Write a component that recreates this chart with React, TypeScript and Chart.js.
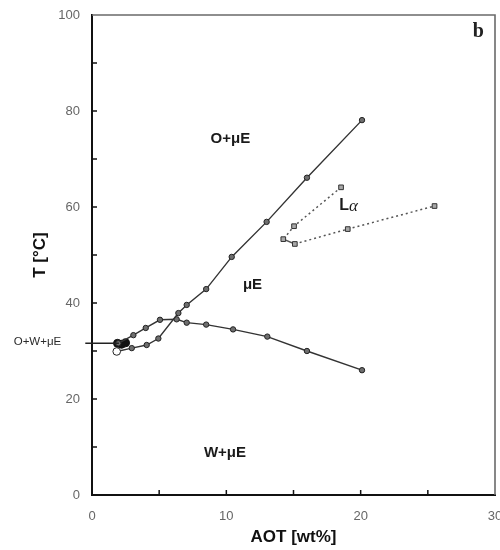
import React, { useEffect, useRef } from "react";
import { Chart, registerables } from "chart.js";

Chart.register(...registerables);

// Phase boundary between O+µE and µE (lower branch continues into the rising line)
const upperX = [1.84, 2.96, 4.07, 4.94, 6.43, 7.05, 8.5, 10.4, 13.0, 16.0, 20.1];
const upperT = [29.9, 30.6, 31.25, 32.6, 37.9, 39.6, 42.9, 49.6, 56.9, 66.1, 78.1];

// Phase boundary between µE and W+µE
const lowerX = [1.96, 3.08, 4.0, 5.06, 6.3, 7.05, 8.5, 10.5, 13.05, 16.0, 20.1];
const lowerT = [31.6, 33.3, 34.8, 36.5, 36.6, 35.9, 35.5, 34.5, 33.0, 30.0, 26.0];

// Lamellar (Lα) region boundary
const lamellarX = [18.54, 15.04, 14.24, 15.1, 19.04, 25.5];
const lamellarT = [64.1, 56.0, 53.3, 52.3, 55.4, 60.2];

// Three-phase O+W+µE temperature
const threePhaseX = [-0.5, 2.0];
const threePhaseT = [31.6, 31.6];

// Overlapping measurements at the three-phase point
const clusterX = [1.9, 2.2, 2.5];
const clusterT = [31.6, 31.4, 31.7];

const xTicks = [0, 10, 20, 30];
const yTicks = [0, 20, 40, 60, 80, 100];
const xMinorTicks = [5, 10, 15, 20, 25];
const yMinorTicks = [10, 20, 30, 40, 50, 60, 70, 80, 90];

const regionNames = ["O+\u03BCE", "\u03BCE", "W+\u03BCE"];
const regionX = [10.3, 11.95, 9.9];
const regionT = [74.3, 43.75, 8.75];

const toPoints = (xs: number[], ys: number[]) => xs.map((x, i) => ({ x, y: ys[i] }));

const SANS = '"Liberation Sans", Arial, Helvetica, sans-serif';
const SERIF = '"Liberation Serif", "Times New Roman", serif';

const decorations = {
  id: "decorations",
  afterDraw(chart: any) {
    const { ctx, chartArea, scales } = chart;
    const xs = scales.x;
    const ys = scales.y;
    ctx.save();

    // top and right frame
    ctx.strokeStyle = "#6a6a6a";
    ctx.lineWidth = 1.6;
    ctx.beginPath();
    ctx.moveTo(chartArea.left, chartArea.top);
    ctx.lineTo(chartArea.right, chartArea.top);
    ctx.lineTo(chartArea.right, chartArea.bottom);
    ctx.stroke();

    // inward tick marks
    ctx.strokeStyle = "#111";
    ctx.lineWidth = 1.5;
    ctx.beginPath();
    xMinorTicks.forEach((v) => {
      const px = xs.getPixelForValue(v);
      ctx.moveTo(px, chartArea.bottom);
      ctx.lineTo(px, chartArea.bottom - 5);
    });
    yMinorTicks.forEach((v) => {
      const py = ys.getPixelForValue(v);
      ctx.moveTo(chartArea.left, py);
      ctx.lineTo(chartArea.left + 5, py);
    });
    ctx.stroke();

    // region labels
    ctx.fillStyle = "#1a1a1a";
    ctx.textAlign = "center";
    ctx.textBaseline = "middle";
    ctx.font = `bold 15px ${SANS}`;
    regionNames.forEach((name, i) => {
      ctx.fillText(name, xs.getPixelForValue(regionX[i]), ys.getPixelForValue(regionT[i]));
    });

    // Lα label
    const lx = xs.getPixelForValue(19.1);
    const ly = ys.getPixelForValue(60.3);
    ctx.font = `bold 16px ${SANS}`;
    const lw = ctx.measureText("L").width;
    ctx.font = `italic 17px ${SERIF}`;
    const aw = ctx.measureText("\u03B1").width;
    const start = lx - (lw + aw) / 2;
    ctx.textAlign = "left";
    ctx.font = `bold 16px ${SANS}`;
    ctx.fillText("L", start, ly);
    ctx.font = `italic 17px ${SERIF}`;
    ctx.fillText("\u03B1", start + lw, ly + 1);

    // three-phase label outside the axis
    ctx.textAlign = "center";
    ctx.fillStyle = "#2a2a2a";
    ctx.font = `11.5px ${SANS}`;
    ctx.fillText("O+W+\u03BCE", xs.getPixelForValue(-4.06), ys.getPixelForValue(31.9));

    // panel letter
    ctx.fillStyle = "#222";
    ctx.font = `bold 20px ${SERIF}`;
    ctx.fillText("b", xs.getPixelForValue(28.75), ys.getPixelForValue(96.5));

    ctx.restore();
  },
};

export default function App() {
  const canvasRef = useRef<HTMLCanvasElement | null>(null);

  useEffect(() => {
    document.body.style.margin = "0";
    const canvas = canvasRef.current;
    if (!canvas) return;

    const pointStyle = {
      pointRadius: 2.7,
      pointBackgroundColor: "#6e6e6e",
      pointBorderColor: "#222",
      pointBorderWidth: 1,
    };

    const chart = new Chart(canvas, {
      type: "scatter",
      data: {
        datasets: [
          {
            data: toPoints(threePhaseX, threePhaseT),
            showLine: true,
            borderColor: "#222",
            borderWidth: 1.4,
            pointRadius: 0,
            clip: false,
          } as any,
          {
            data: toPoints(upperX, upperT),
            showLine: true,
            borderColor: "#333",
            borderWidth: 1.4,
            ...pointStyle,
            pointRadius: upperX.map((_, i) => (i === 0 ? 3.8 : 2.7)),
            pointBackgroundColor: upperX.map((_, i) => (i === 0 ? "#fff" : "#6e6e6e")),
          },
          {
            data: toPoints(lowerX, lowerT),
            showLine: true,
            borderColor: "#333",
            borderWidth: 1.4,
            ...pointStyle,
          },
          {
            data: toPoints(lamellarX, lamellarT),
            showLine: true,
            borderColor: "#555",
            borderWidth: 1.5,
            borderDash: [2, 3],
            segment: {
              borderDash: (c: any) => (c.p0DataIndex === 2 ? [] : [2, 3]),
            },
            pointStyle: "rect",
            pointRadius: 3.3,
            pointBackgroundColor: "#a8a8a8",
            pointBorderColor: "#333",
            pointBorderWidth: 1,
          } as any,
          {
            data: toPoints(clusterX, clusterT),
            showLine: false,
            pointRadius: 4,
            pointBackgroundColor: "#111",
            pointBorderColor: "#111",
          },
        ],
      },
      options: {
        responsive: false,
        animation: false,
        devicePixelRatio: 1,
        layout: { padding: { top: 15, right: 5, left: 0, bottom: 0 } },
        plugins: {
          legend: { display: false },
          tooltip: { enabled: false },
        },
        scales: {
          x: {
            type: "linear",
            min: 0,
            max: 30,
            grid: { display: false, drawTicks: false },
            border: { display: true, color: "#111", width: 2 },
            ticks: {
              stepSize: 10,
              padding: 14,
              color: "#666",
              font: { size: 13, family: SANS },
              callback: (v: any) => (xTicks.includes(v) ? String(v) : ""),
            },
            title: {
              display: true,
              text: "AOT [wt%]",
              color: "#111",
              font: { size: 17, weight: "bold", family: SANS },
              padding: { top: 0, bottom: 2 },
            },
            afterFit: (s: any) => {
              s.height = 55;
              s.paddingLeft = 0;
              s.paddingRight = 0;
            },
          },
          y: {
            type: "linear",
            min: 0,
            max: 100,
            grid: { display: false, drawTicks: false },
            border: { display: true, color: "#111", width: 2 },
            ticks: {
              stepSize: 20,
              padding: 12,
              color: "#666",
              font: { size: 13, family: SANS },
              callback: (v: any) => (yTicks.includes(v) ? String(v) : ""),
            },
            title: {
              display: true,
              text: "T [\u00B0C]",
              color: "#111",
              font: { size: 17, weight: "bold", family: SANS },
              padding: { top: 30, bottom: 0 },
            },
            afterFit: (s: any) => {
              s.width = 92;
              s.paddingTop = 0;
              s.paddingBottom = 0;
            },
          },
        },
      },
      plugins: [decorations],
    });

    return () => chart.destroy();
  }, []);

  return (
    <div style={{ width: 500, height: 550, background: "#fff" }}>
      <canvas ref={canvasRef} width={500} height={550} style={{ display: "block" }} />
    </div>
  );
}
